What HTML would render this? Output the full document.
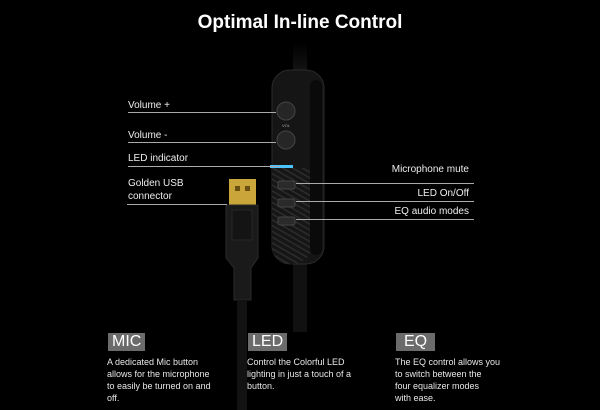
<!DOCTYPE html>
<html><head><meta charset="utf-8"><style>
body{margin:0;width:600px;height:410px;background:#000;overflow:hidden;position:relative;font-family:"Liberation Sans",sans-serif;color:#fff}
.t{position:absolute;font-size:10px;color:#eee;white-space:nowrap}
.l{position:absolute;height:1px;background:#aaa}
.lab{position:absolute;background:#6b6b6b;color:#fff;font-size:16px;line-height:18px;padding:0 4px;top:333px;height:18px}
.d{position:absolute;top:356px;font-size:9px;line-height:12px;color:#e8e8e8;width:112px}
</style></head><body>
<svg width="600" height="410" style="position:absolute;left:0;top:0">
<defs><pattern id="st" width="5" height="5" patternUnits="userSpaceOnUse" patternTransform="rotate(-60)"><rect width="5" height="5" fill="#161616"/><rect width="1.5" height="5" fill="#2c2c2c"/></pattern>
<linearGradient id="cg" x1="0" y1="0" x2="0" y2="1"><stop offset="0" stop-color="#000"/><stop offset="1" stop-color="#151515"/></linearGradient></defs>
<rect x="293" y="42" width="14" height="32" fill="url(#cg)"/>
<rect x="293" y="262" width="14" height="70" fill="#111"/>
<rect x="272" y="70" width="52" height="194" rx="18" fill="#151515" stroke="#2a2a2a"/>
<path d="M272 168 H310 V255 Q300 265 290 264 Q272 262 272 246 Z" fill="url(#st)"/>
<rect x="310" y="80" width="12" height="175" rx="6" fill="#0a0a0a"/>
<circle cx="286" cy="111" r="9" fill="#262626" stroke="#444"/>
<circle cx="286" cy="140" r="9" fill="#262626" stroke="#444"/>
<text x="286" y="127" font-size="4" fill="#aaa" text-anchor="middle">VOL</text>
<rect x="270" y="165" width="23" height="3" fill="#4cc3ff"/>
<rect x="278" y="181" width="17" height="8" rx="2" fill="#2a2a2a" stroke="#444"/>
<rect x="278" y="199" width="17" height="8" rx="2" fill="#2a2a2a" stroke="#444"/>
<rect x="278" y="217" width="17" height="8" rx="2" fill="#2a2a2a" stroke="#444"/>
<rect x="229" y="179" width="27" height="27" fill="#c9a53a"/>
<rect x="235" y="186" width="5" height="5" fill="#6b4f10"/><rect x="245" y="186" width="5" height="5" fill="#6b4f10"/>
<path d="M226 205 H258 V258 L251 268 V300 H234 V268 L226 258 Z" fill="#1a1a1a" stroke="#2a2a2a"/>
<rect x="232" y="210" width="20" height="30" fill="#141414" stroke="#262626"/>
<rect x="237" y="300" width="10" height="110" fill="#121212"/>
</svg>
<div style="position:absolute;left:0;width:600px;top:12px;text-align:center;font-size:19px;font-weight:bold">Optimal In-line Control</div>
<div class="t" style="left:128px;top:100px">Volume +</div><div class="l" style="left:128px;top:112px;width:148px"></div>
<div class="t" style="left:128px;top:130px">Volume -</div><div class="l" style="left:128px;top:142px;width:148px"></div>
<div class="t" style="left:128px;top:153px">LED indicator</div><div class="l" style="left:128px;top:166px;width:152px"></div>
<div class="t" style="left:128px;top:177px;line-height:13px">Golden USB<br>connector</div><div class="l" style="left:127px;top:204px;width:100px"></div>
<div class="t" style="right:131px;top:164px">Microphone mute</div><div class="l" style="left:296px;top:183px;width:178px"></div>
<div class="t" style="right:131px;top:188px">LED On/Off</div><div class="l" style="left:296px;top:201px;width:178px"></div>
<div class="t" style="right:131px;top:206px">EQ audio modes</div><div class="l" style="left:296px;top:219px;width:178px"></div>
<div class="lab" style="left:108px">MIC</div>
<div class="lab" style="left:248px">LED</div>
<div class="lab" style="left:396px;padding:0 8px">EQ</div>
<div class="d" style="left:107px">A dedicated Mic button allows for the microphone to easily be turned on and off.</div>
<div class="d" style="left:247px">Control the Colorful LED lighting in just a touch of a button.</div>
<div class="d" style="left:395px;width:130px">The EQ control allows you<br>to switch between the<br>four equalizer modes<br>with ease.</div>
</body></html>
